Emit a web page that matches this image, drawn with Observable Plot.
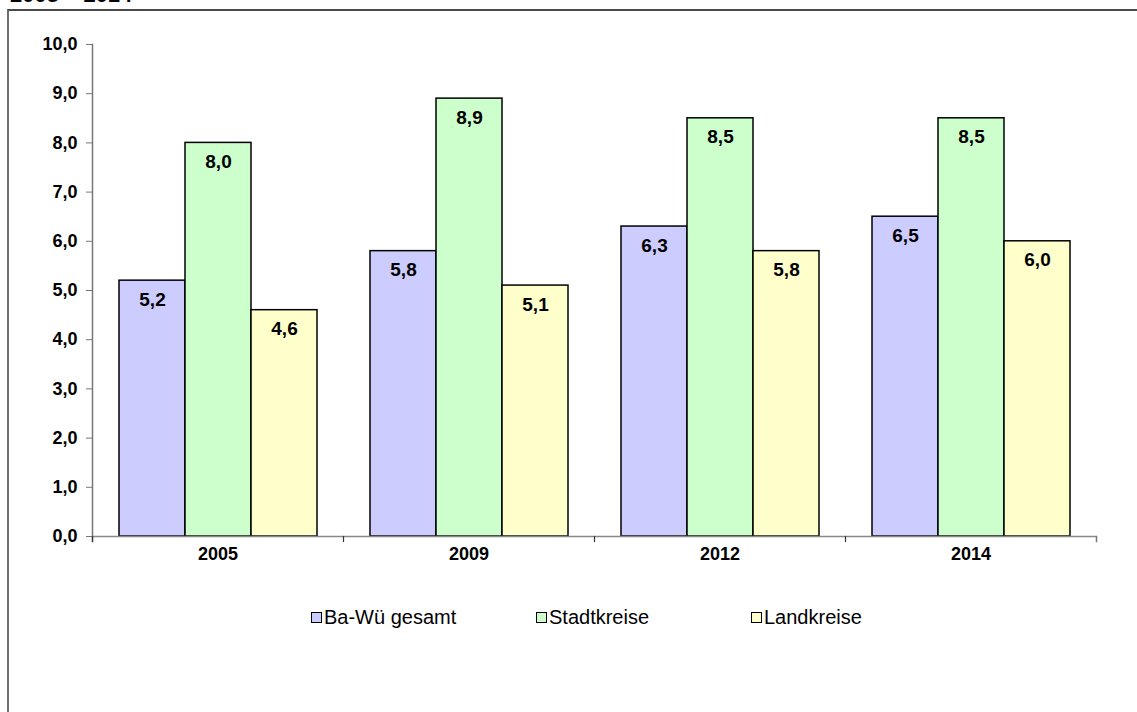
<!DOCTYPE html>
<html>
<head>
<meta charset="utf-8">
<script src="https://cdn.jsdelivr.net/npm/d3@7"></script>
<script src="https://cdn.jsdelivr.net/npm/@observablehq/plot@0.6"></script>
<style>
  html, body { margin: 0; padding: 0; background: #fff; overflow: hidden; }
  body { width: 1137px; height: 712px; position: relative; font-family: "Liberation Sans", Arial, sans-serif; }
  #title { position: absolute; left: 10px; top: -18px; font-size: 22px; font-weight: bold; color: #000; white-space: nowrap; }
  #box { position: absolute; left: 7px; top: 9px; width: 1200px; height: 800px; border-left: 2px solid #6e6e6e; border-top: 2px solid #4a4a4a; box-sizing: border-box; }
  #chart { position: absolute; left: 0; top: 0; }
  .leg { position: absolute; top: 606px; font-size: 20px; color: #000; display: flex; align-items: center; white-space: nowrap; }
  .leg i { display: inline-block; width: 9px; height: 9px; border: 1px solid #000; margin-right: 2px; }
</style>
</head>
<body>
<div id="title">2005 – 2014</div>
<div id="box"></div>
<div id="chart"></div>
<div id="legend"></div>
<script>
const years = ["2005", "2009", "2012", "2014"];
const series = ["Ba-Wü gesamt", "Stadtkreise", "Landkreise"];
const colors = ["#ccccff", "#ccffcc", "#ffffcc"];
const baWue = [5.2, 5.8, 6.3, 6.5];
const stadtkreise = [8.0, 8.9, 8.5, 8.5];
const landkreise = [4.6, 5.1, 5.8, 6.0];
const yTicks = [0, 1, 2, 3, 4, 5, 6, 7, 8, 9, 10];

const valuesBySeries = [baWue, stadtkreise, landkreise];
const data = [];
years.forEach((yr, i) => series.forEach((s, j) => data.push({year: yr, series: s, value: valuesBySeries[j][i]})));

const fmt = d => d.toFixed(1).replace(".", ",");
const W = 1137, H = 580, mt = 44, mb = 44, ml = 90, mr = 40;
const innerH = H - mt - mb;

const chart = Plot.plot({
  width: W, height: H,
  marginTop: mt, marginBottom: mb, marginLeft: ml, marginRight: mr,
  style: {fontFamily: "'Liberation Sans', Arial, sans-serif", background: "transparent", overflow: "visible"},
  fx: {domain: years, padding: 0, label: null},
  x: {domain: series, paddingInner: 0, paddingOuter: 0.3985, axis: null},
  y: {domain: [0, 10], label: null},
  color: {domain: series, range: colors},
  marks: [
    Plot.barY(data, {fx: "year", x: "series", y: "value", fill: "series", stroke: "#000", strokeWidth: 1.5}),
    Plot.ruleY([0], {stroke: "#888", strokeWidth: 1.5}),
    Plot.frame({anchor: "left", facetAnchor: "left", insetBottom: -5, stroke: "#777", strokeWidth: 1.5}),
    Plot.frame({anchor: "left", insetTop: innerH, insetBottom: -5, stroke: "#333", strokeWidth: 1.2}),
    Plot.frame({anchor: "right", facetAnchor: "right", insetTop: innerH, insetBottom: -5, stroke: "#777", strokeWidth: 1.5}),
    Plot.text(data, {fx: "year", x: "series", y: "value", text: d => fmt(d.value), dy: 19, fontSize: 19, fontWeight: "bold", fill: "#000"}),
    Plot.axisY({ticks: yTicks, tickFormat: fmt, tickSize: 6, tickPadding: 9, fontSize: 18, fontWeight: "bold", stroke: "#777", fill: "#000", label: null}),
    Plot.axisFx({anchor: "bottom", tickSize: 0, tickPadding: 11, fontSize: 18, fontWeight: "bold", fill: "#000", label: null})
  ]
});
document.getElementById("chart").appendChild(chart);

const legend = document.getElementById("legend");
const legLeft = [311, 536, 751];
series.forEach((s, j) => {
  const d = document.createElement("div");
  d.className = "leg";
  d.style.left = legLeft[j] + "px";
  const sw = document.createElement("i");
  sw.style.background = colors[j];
  d.appendChild(sw);
  d.appendChild(document.createTextNode(s));
  legend.appendChild(d);
});
</script>
</body>
</html>
